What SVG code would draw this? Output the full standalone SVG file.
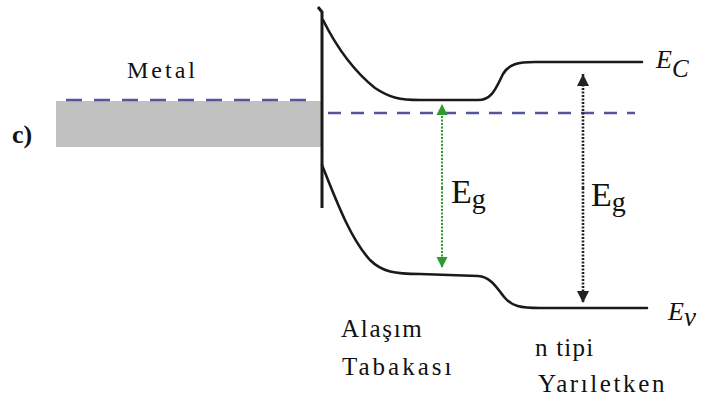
<svg xmlns="http://www.w3.org/2000/svg" width="707" height="403" viewBox="0 0 707 403">
<style>
text{font-family:'Liberation Serif','DejaVu Serif',serif;fill:#111;}
.band{fill:none;stroke:#1a1a1a;stroke-width:2.6;stroke-linecap:round;stroke-linejoin:round;}
.fermi{stroke:#55559a;stroke-width:2.6;fill:none;}
</style>
<defs>
<marker id="gh" viewBox="0 0 10 10" refX="10" refY="5" markerWidth="11" markerHeight="12" markerUnits="userSpaceOnUse" orient="auto"><path d="M0,0 L10,5 L0,10 Z" fill="#2f9a2f"/></marker>
<marker id="bh" viewBox="0 0 10 10" refX="10" refY="5" markerWidth="12" markerHeight="12" markerUnits="userSpaceOnUse" orient="auto"><path d="M0,0 L10,5 L0,10 Z" fill="#222"/></marker>
</defs>
<rect width="707" height="403" fill="#fff"/>
<g id="metal">
<rect x="56" y="101" width="265" height="46" fill="#c0c0c0"/>
<text x="127" y="78" font-size="24" letter-spacing="3">Metal</text>
</g>
<text x="12" y="143" font-size="26" font-weight="bold">c)</text>
<g id="interface">
<path d="M318,7 L322,12 L322,208" fill="none" stroke="#1a1a1a" stroke-width="3"/>
</g>
<g id="bands">
<path class="band" d="M323,20 C338,50 355,72 375,88 C390,98 400,100 420,100 L478,100 C492,100 496,88 503,74 C509,64 518,62 535,62 L642,62"/>
<path class="band" d="M322,165 C336,200 350,238 370,260 C382,272 395,274 420,274 L478,276 C492,277 498,290 505,298 C512,306 520,308 540,308 L647,308"/>
</g>
<g id="connectors">
<line class="fermi" x1="66" y1="100" x2="318" y2="100" stroke-dasharray="16 12"/>
<line class="fermi" x1="328" y1="113" x2="635" y2="113" stroke-dasharray="13 10"/>
<line x1="442" y1="188" x2="442" y2="104" stroke="#2f9a2f" stroke-width="2" stroke-dasharray="2 1.5" marker-end="url(#gh)"/>
<line x1="442" y1="188" x2="442" y2="268" stroke="#2f9a2f" stroke-width="2" stroke-dasharray="2 1.5" marker-end="url(#gh)"/>
<line x1="583" y1="188" x2="583" y2="74" stroke="#222" stroke-width="2.6" stroke-dasharray="2 1.5" marker-end="url(#bh)"/>
<line x1="583" y1="188" x2="583" y2="303" stroke="#222" stroke-width="2.6" stroke-dasharray="2 1.5" marker-end="url(#bh)"/>
</g>
<g id="labels">
<text x="451" y="203" font-size="34">E<tspan font-size="28" dy="5">g</tspan></text>
<text x="591" y="206" font-size="34">E<tspan font-size="28" dy="5">g</tspan></text>
<text x="656" y="68" font-size="26" font-style="italic">E<tspan font-size="25" dy="9">C</tspan></text>
<text x="668" y="320" font-size="26" font-style="italic">E<tspan font-size="27" dy="6">v</tspan></text>
<text x="341" y="337" font-size="25" letter-spacing="1.7">Alaşım</text>
<text x="342" y="375" font-size="25" letter-spacing="3">Tabakası</text>
<text x="535" y="356" font-size="25" letter-spacing="1.2">n tipi</text>
<text x="538" y="392" font-size="25" letter-spacing="2.6">Yarıletken</text>
</g>
</svg>
